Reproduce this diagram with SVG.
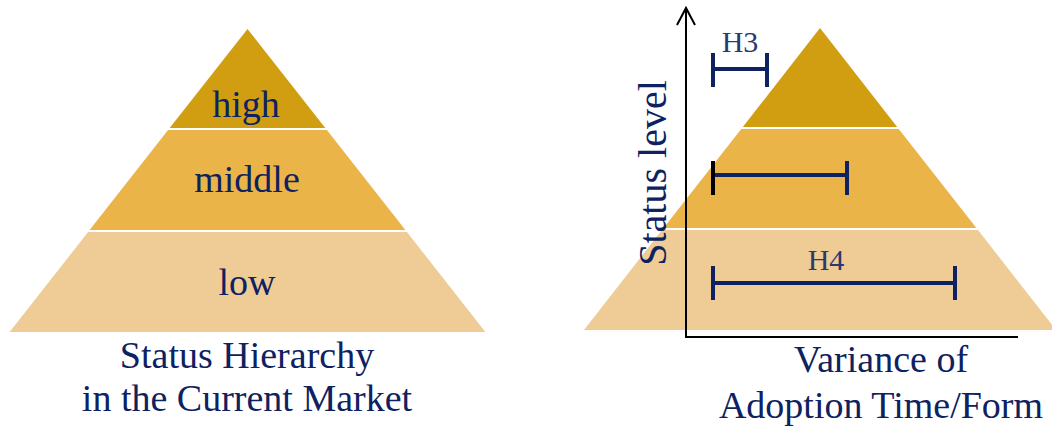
<svg xmlns="http://www.w3.org/2000/svg" width="1052" height="431" viewBox="0 0 1052 431">
<defs>
<style>
.t{font-family:"Liberation Serif","Times New Roman",serif;fill:#0E2160;text-anchor:middle}
.big{font-size:38px}
.h{font-size:30px;fill:#2B3A6E}
.c1{fill:#D09E10}
.c2{fill:#EAB449}
.c3{fill:#EFCB95}
.bar{stroke:#0E2160;stroke-width:4;fill:none}
.axis{stroke:#000;stroke-width:2;fill:none}
</style>
</defs>
<rect width="1052" height="431" fill="#fff"/>
<g id="left-pyramid">
<polygon class="c1" points="247.5,29 325.3,128 169.7,128"/>
<polygon class="c2" points="168.1,130 326.9,130 405.4,230 89.6,230"/>
<polygon class="c3" points="88.1,232 406.9,232 485.4,332 9.6,332"/>
<text class="t big" x="246" y="117">high</text>
<text class="t big" x="247" y="192">middle</text>
<text class="t big" x="247" y="295">low</text>
<text class="t big" x="247" y="368">Status Hierarchy</text>
<text class="t big" x="247" y="411">in the Current Market</text>
</g>
<g id="right-pyramid">
<polygon class="c1" points="820,28 897.2,127 742.8,127"/>
<polygon class="c2" points="741.2,129 898.8,129 976.4,228 663.6,228"/>
<polygon class="c3" points="662,230 978,230 1056,330 584,330"/>
</g>
<g id="connectors">
<path class="axis" d="M686,8 V337 H1018"/>
<path class="axis" d="M677,25 L686,8 L695,25"/>
<path class="bar" d="M713,53 V87 M713,69 H767 M767,53 V87"/>
<path class="bar" d="M713,175 H847 M847,161 V195"/>
<path d="M713,161 V195" stroke="#000" stroke-width="4"/>
<path class="bar" d="M713,266 V300 M713,283 H955 M955,266 V300"/>
</g>
<g id="labels">
<text class="t h" x="740" y="52">H3</text>
<text class="t h" x="826" y="270">H4</text>
<text class="t" font-size="40" transform="translate(666,173) rotate(-90)">Status level</text>
<text class="t big" x="881" y="372">Variance of</text>
<text class="t big" x="881" y="418">Adoption Time/Form</text>
</g>
</svg>
